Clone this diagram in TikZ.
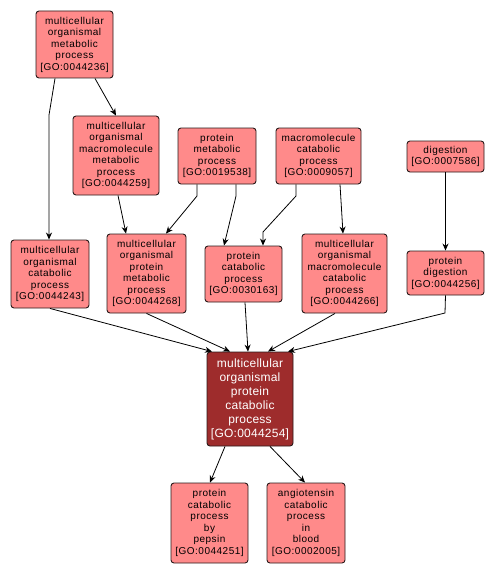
\documentclass[tikz,border=0pt]{standalone}
\usepackage{fontspec}
\setmainfont{Liberation Sans}
\newfontfamily\gotermfont[LetterSpace=5]{Liberation Sans}
\newfontfamily\gomainfont[LetterSpace=2]{Liberation Sans}
\usetikzlibrary{arrows.meta}
\definecolor{gofill}{HTML}{FF8A8A}
\definecolor{gomainfill}{HTML}{9E2C2C}
\definecolor{goline}{HTML}{2A1A1A}

\begin{document}
\begin{tikzpicture}[x=1pt, y=-1pt,
  >={Stealth[length=7pt, width=6pt]},
  goterm/.style={draw=goline, fill=gofill, line width=0.9pt, rounded corners=3pt,
    align=center, inner sep=0pt, font=\gotermfont\fontsize{10}{11.5}\selectfont},
  gomain/.style={goterm, fill=gomainfill, text=white, font=\gomainfont\fontsize{12}{14}\selectfont},
  goedge/.style={->, line width=0.8pt, black}]

% Canvas
\useasboundingbox (0,0) rectangle (494,575);
\fill[white] (0,0) rectangle (494,575);

% Top row
\node[goterm, minimum width=77pt, minimum height=67pt] (mom) at (74.5,44.5)
  {multicellular\\organismal\\metabolic\\process\\{[GO:0044236]}};
\node[goterm, minimum width=86pt, minimum height=79pt] (mommp) at (116,155.5)
  {multicellular\\organismal\\macromolecule\\metabolic\\process\\{[GO:0044259]}};
\node[goterm, minimum width=78pt, minimum height=56pt] (pmp) at (217,156)
  {protein\\metabolic\\process\\{[GO:0019538]}};
\node[goterm, minimum width=85pt, minimum height=56pt] (mcp) at (318.5,156)
  {macromolecule\\catabolic\\process\\{[GO:0009057]}};
\node[goterm, minimum width=77pt, minimum height=31pt] (dig) at (445.5,156.5)
  {digestion\\{[GO:0007586]}};

% Middle row
\node[goterm, minimum width=78pt, minimum height=68pt] (mocp) at (50,274)
  {multicellular\\organismal\\catabolic\\process\\{[GO:0044243]}};
\node[goterm, minimum width=79pt, minimum height=79pt] (mopmp) at (146.5,273.5)
  {multicellular\\organismal\\protein\\metabolic\\process\\{[GO:0044268]}};
\node[goterm, minimum width=77pt, minimum height=56pt] (pcp) at (243.5,274)
  {protein\\catabolic\\process\\{[GO:0030163]}};
\node[goterm, minimum width=85pt, minimum height=79pt] (momcp) at (344.5,273.5)
  {multicellular\\organismal\\macromolecule\\catabolic\\process\\{[GO:0044266]}};
\node[goterm, minimum width=77pt, minimum height=44pt] (pdig) at (445.5,273)
  {protein\\digestion\\{[GO:0044256]}};

% Focus term
\node[gomain, minimum width=86pt, minimum height=94pt] (mopcp) at (250,399)
  {multicellular\\organismal\\protein\\catabolic\\process\\{[GO:0044254]}};

% Bottom row
\node[goterm, minimum width=77pt, minimum height=80pt] (pcpp) at (209.5,523)
  {protein\\catabolic\\process\\by\\pepsin\\{[GO:0044251]}};
\node[goterm, minimum width=78pt, minimum height=80pt] (acpb) at (306,523)
  {angiotensin\\catabolic\\process\\in\\blood\\{[GO:0002005]}};

% Edges
\draw[goedge] ([xshift=-19.5pt]mom.south) -- (49,115) -- ([xshift=-1pt]mocp.north);
\draw[goedge] ([xshift=20.5pt]mom.south) -- (mommp.north);
\draw[goedge] ([xshift=2pt]mommp.south) -- ([xshift=-20.5pt]mopmp.north);
\draw[goedge] ([xshift=-20pt]pmp.south) -- (197,196) -- ([xshift=19.5pt]mopmp.north);
\draw[goedge] ([xshift=19pt]pmp.south) -- (236,196) -- ([xshift=-19.5pt]pcp.north);
\draw[goedge] ([xshift=-22.5pt]mcp.south) -- (296,196) -- (263,232) -- ([xshift=19.5pt]pcp.north);
\draw[goedge] ([xshift=21.5pt]mcp.south) -- ([xshift=-1.5pt]momcp.north);
\draw[goedge] (dig.south) -- (pdig.north);

\draw[goedge] (mocp.south) -- ([xshift=-38pt]mopcp.north);
\draw[goedge] (mopmp.south) -- ([xshift=-20pt]mopcp.north);
\draw[goedge] ([xshift=1.5pt]pcp.south) -- ([xshift=-2pt]mopcp.north);
\draw[goedge] ([xshift=-9.5pt]momcp.south) -- ([xshift=18pt]mopcp.north);
\draw[goedge] (pdig.south) -- (445,313) -- ([xshift=38pt]mopcp.north);

\draw[goedge] ([xshift=-25pt]mopcp.south) -- ([xshift=0.5pt]pcpp.north);
\draw[goedge] ([xshift=20pt]mopcp.south) -- ([xshift=-1pt]acpb.north);

\end{tikzpicture}
\end{document}
